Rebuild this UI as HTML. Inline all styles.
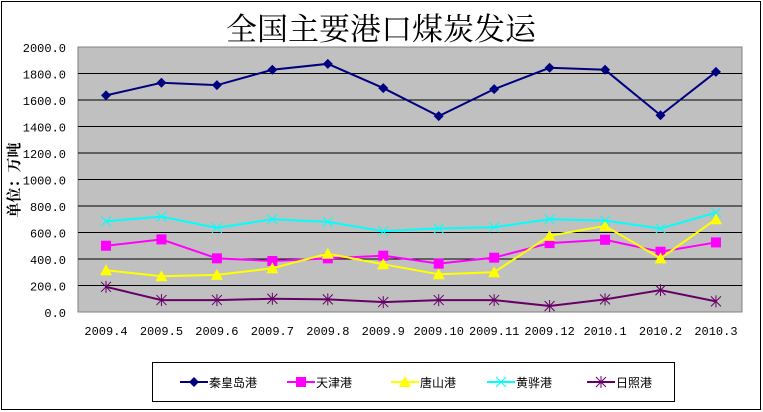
<!DOCTYPE html>
<html><head><meta charset="utf-8">
<style>
html,body{margin:0;padding:0;background:#fff;}
svg{display:block;}
text{font-family:"Liberation Mono","Noto Sans CJK SC",monospace;}
</style></head>
<body>
<svg id="c" width="763" height="412" xmlns="http://www.w3.org/2000/svg">
<rect x="1.5" y="1.5" width="759" height="408" fill="#fff" stroke="#000" stroke-width="1"/>
<text x="381" y="40" font-size="31" text-anchor="middle" style="font-family:'Noto Serif CJK SC','Noto Sans CJK SC',serif">全国主要港口煤炭发运</text>
<rect x="78" y="47" width="664" height="265" fill="#c0c0c0" stroke="#808080" stroke-width="1"/>
<g id="grid"></g>
<g id="series"></g>
<text transform="translate(19,180) rotate(-90)" font-size="15" font-weight="bold" text-anchor="middle" style="font-family:'Noto Serif CJK SC','Noto Sans CJK SC',serif">单位：万吨</text>
<rect x="152.5" y="362.5" width="522" height="39" fill="#fff" stroke="#000" stroke-width="1"/>
<g id="legend" font-size="12"></g>
</svg>
<script>
const NS="http://www.w3.org/2000/svg";
function el(p,t,a,txt){const e=document.createElementNS(NS,t);for(const k in a)e.setAttribute(k,a[k]);if(txt!==undefined)e.textContent=txt;p.appendChild(e);return e;}
const Y=v=>312-v*0.1325, X=i=>106+i*55.45;
const g=document.getElementById('grid');
for(let v=0;v<=2000;v+=200){
  if(v>0&&v<2000) el(g,'line',{x1:78,x2:742,y1:Y(v),y2:Y(v),stroke:'#000','stroke-width':1});
  el(g,'text',{x:66,y:Y(v)+5,'font-size':12,'text-anchor':'end'},v.toFixed(1));
}
const labs=["2009.4","2009.5","2009.6","2009.7","2009.8","2009.9","2009.10","2009.11","2009.12","2010.1","2010.2","2010.3"];
labs.forEach((l,i)=>el(g,'text',{x:X(i),y:335,'font-size':12,'text-anchor':'middle'},l));
const S=[
 {n:"秦皇岛港",c:"#000080",m:"d",d:[1635,1730,1712,1828,1873,1690,1478,1682,1843,1828,1485,1812]},
 {n:"天津港",c:"#ff00ff",m:"s",d:[500,548,405,385,405,425,365,410,520,545,455,525]},
 {n:"唐山港",c:"#ffff00",m:"t",d:[315,270,280,330,440,360,285,300,575,650,405,700]},
 {n:"黄骅港",c:"#00ffff",m:"x",d:[685,720,635,700,680,610,630,640,700,690,630,750]},
 {n:"日照港",c:"#660066",m:"a",d:[190,90,90,100,95,75,90,90,45,95,165,80]}];
function mk(p,m,x,y,c){
 if(m=="d")el(p,'polygon',{points:`${x},${y-5} ${x+5},${y} ${x},${y+5} ${x-5},${y}`,fill:c});
 else if(m=="s")el(p,'rect',{x:x-5,y:y-5,width:10,height:10,fill:c});
 else if(m=="t")el(p,'polygon',{points:`${x},${y-6} ${x+6},${y+5} ${x-6},${y+5}`,fill:c});
 else if(m=="x"){el(p,'path',{d:`M${x-5},${y-5}L${x+5},${y+5}M${x+5},${y-5}L${x-5},${y+5}`,stroke:c,'stroke-width':1});}
 else {el(p,'path',{d:`M${x-5},${y-5}L${x+5},${y+5}M${x+5},${y-5}L${x-5},${y+5}M${x},${y-6}L${x},${y+6}`,stroke:c,'stroke-width':1});}
}
const sg=document.getElementById('series');
S.forEach(s=>{
 el(sg,'polyline',{points:s.d.map((v,i)=>X(i)+","+Y(v)).join(" "),fill:"none",stroke:s.c,'stroke-width':2});
 s.d.forEach((v,i)=>mk(sg,s.m,X(i),Y(v),s.c));
});
const lg=document.getElementById('legend');
const lx=[180,287,391,487,587];
S.forEach((s,i)=>{
 const x=lx[i],y=382;
 el(lg,'line',{x1:x,x2:x+28,y1:y,y2:y,stroke:s.c,'stroke-width':2});
 mk(lg,s.m,x+14,y,s.c);
 el(lg,'text',{x:x+29,y:y+5,style:"font-family:'Noto Sans CJK SC',sans-serif"},s.n);
});
</script>
</body></html>
